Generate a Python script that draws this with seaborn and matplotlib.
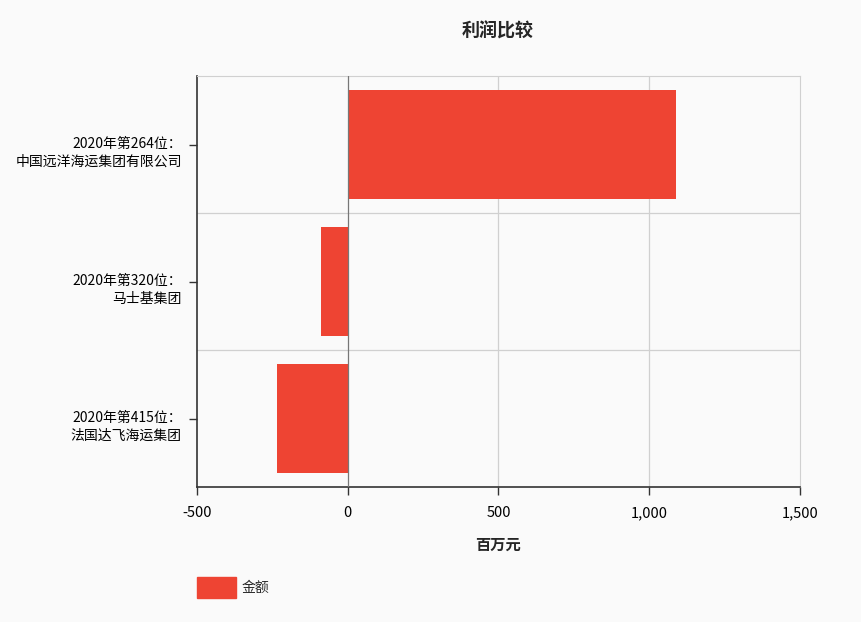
import pandas as pd
import numpy as np
import matplotlib
matplotlib.use("Agg")
import matplotlib.pyplot as plt
import matplotlib.patches as mpatches
import seaborn as sns

# ==============================
# Data
# ==============================
companies = [
    "2020年第264位：\n中国远洋海运集团有限公司",
    "2020年第320位：\n马士基集团",
    "2020年第415位：\n法国达飞海运集团",
]
profit = [1088, -90, -235]
xticks = [-500, 0, 500, 1000, 1500]
xtick_labels = ["-500", "0", "500", "1,000", "1,500"]

df = pd.DataFrame({"company": companies, "profit": profit})

sns.set_style("white")
plt.rcParams['font.family'] = ['Noto Sans CJK SC', 'DejaVu Sans']

bar_color = "#ee4433"
bg = "#fafafa"

fig = plt.figure(figsize=(8.61, 6.22), dpi=100, facecolor=bg)
ax = fig.add_axes([0.2288, 0.217, 0.7003, 0.6608])
ax.set_facecolor(bg)

sns.barplot(data=df, x="profit", y="company", orient="h", color=bar_color,
            width=0.8, saturation=1, linewidth=0, ax=ax, zorder=3)

ax.set_xlim(-500, 1500)
ax.set_ylim(2.5, -0.5)
ax.set_xticks(xticks)
ax.set_xticklabels(xtick_labels, fontsize=10.5)
ax.tick_params(axis="y", left=True, length=6, width=1, colors="#333333",
               labelleft=False)
ax.tick_params(axis="x", bottom=True, length=6, width=1, colors="#333333", pad=8)
for lbl in ax.get_xticklabels():
    lbl.set_color("black")

# y labels: first line sits on the tick, second line below
for i, name in enumerate(companies):
    ax.annotate(name, xy=(0, i), xycoords=ax.get_yaxis_transform(),
                xytext=(-11, -6), textcoords="offset points",
                ha="right", va="center", fontsize=10, linespacing=1.3,
                color="black", annotation_clip=False)

# grid lines
for x in xticks[1:-1]:
    ax.axvline(x, color="#777777" if x == 0 else "#d0d0d0", lw=0.9,
               zorder=4 if x == 0 else 1)
for y in [0.5, 1.5]:
    ax.axhline(y, color="#d0d0d0", lw=0.9, zorder=1)

ax.spines["left"].set_color("#333333")
ax.spines["bottom"].set_color("#333333")
ax.spines["left"].set_linewidth(1.2)
ax.spines["bottom"].set_linewidth(1.2)
ax.spines["top"].set_color("#d0d0d0")
ax.spines["right"].set_color("#d0d0d0")

ax.set_ylabel("")
ax.set_xlabel("百万元", fontsize=11, fontweight="bold", labelpad=12)
fig.suptitle("利润比较", fontsize=13, fontweight="bold", y=0.965, x=0.578)

# legend
handle = mpatches.Patch(color=bar_color, label="金额")
fig.legend(handles=[handle], loc="lower left", bbox_to_anchor=(0.214, 0.018),
           frameon=False, fontsize=10, handlelength=2.8, handleheight=2.0,
           handletextpad=0.4)

fig.savefig("out.png", dpi=100, facecolor=bg)
